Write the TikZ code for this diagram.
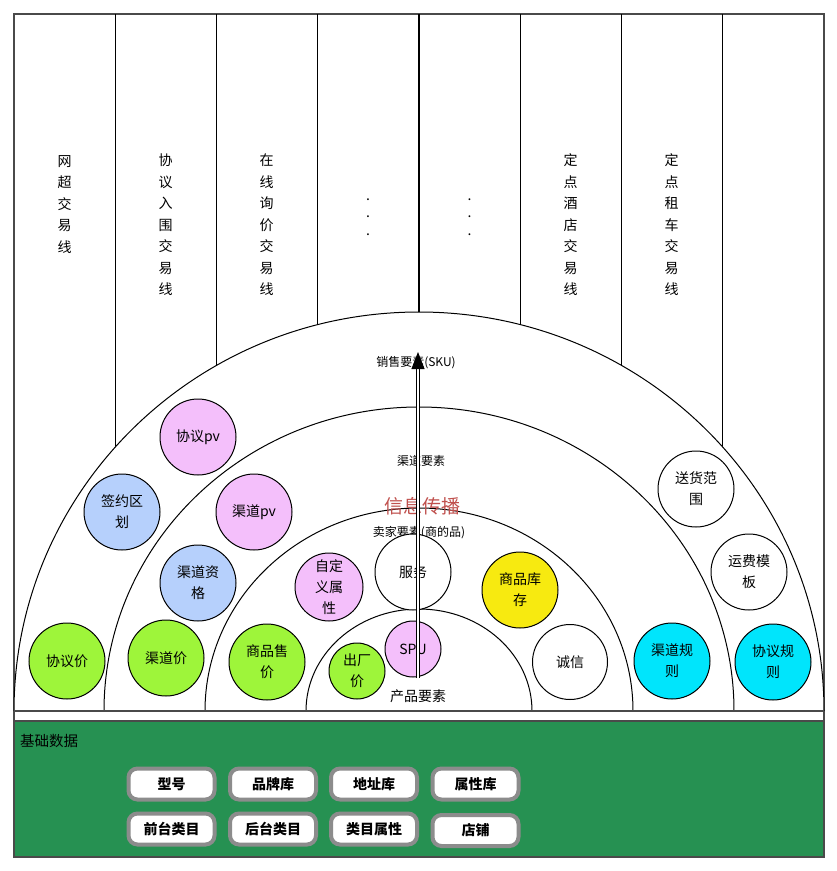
\documentclass[tikz,border=0pt]{standalone}
\usepackage{fontspec}
\setmainfont{Noto Sans CJK SC}
\usetikzlibrary{positioning, arrows.meta}

\definecolor{pvpink}{HTML}{F4BFFB}
\definecolor{areablue}{HTML}{B6D0FC}
\definecolor{pricegreen}{HTML}{9EF53A}
\definecolor{stockyellow}{HTML}{F7EA10}
\definecolor{rulecyan}{HTML}{00E5FC}
\definecolor{basegreen}{HTML}{269152}
\definecolor{infored}{HTML}{C0504D}
\definecolor{framegray}{HTML}{4A4A4A}
\definecolor{boxgray}{HTML}{8C8C8C}

\tikzset{
  element/.style={circle, draw, line width=1pt, inner sep=0pt, align=center,
    font=\fontsize{14}{21}\selectfont},
  lanetext/.style={inner sep=0pt, align=center, font=\fontsize{14}{21.5}\selectfont},
  layertext/.style={inner sep=0pt, font=\fontsize{12}{14}\selectfont},
  basebox/.style={draw=boxgray, line width=4pt, fill=white, rounded corners=9pt,
    minimum width=86pt, minimum height=31pt, inner sep=0pt,
    font=\bfseries\fontsize{14}{16}\selectfont}
}

\begin{document}
\begin{tikzpicture}[x=1pt, y=1pt]
    \useasboundingbox (0,0) rectangle (837,-871);

    % Draw frame and lane separators
    \draw[framegray, line width=1.5pt] (14,-14) rectangle (824,-857);
    \foreach \x/\y in {115.25/447.1, 216.5/365.5, 317.75/324.7, 419/312, 520.25/324.7, 621.5/365.5, 722.75/447.1} {
      \draw[line width=1.2pt] (\x,-14) -- (\x,-\y);
    }

    % Lane labels
    \foreach \x/\y/\t in {64.5/204.5/网\\超\\交\\易\\线, 165.5/225/协\\议\\入\\围\\交\\易\\线,
      266.5/225/在\\线\\询\\价\\交\\易\\线, 570.5/225/定\\点\\酒\\店\\交\\易\\线,
      671.5/225/定\\点\\租\\车\\交\\易\\线} {
      \node[lanetext] at (\x,-\y) {\t};
    }
    \foreach \x in {368, 469.5} {
      \node[lanetext, font=\fontsize{14}{17.5}\selectfont] at (\x,-217) {.\\.\\.};
    }

    % Draw layers
    \foreach \rx/\ry in {405/399, 315/304, 214/203, 113/102} {
      \draw[fill=white, line width=1pt] (419-\rx,-711) arc[start angle=180, end angle=0, x radius=\rx, y radius=\ry];
    }
    \draw[framegray, line width=1.5pt] (14,-711) -- (824,-711);

    % Layer labels
    \node[layertext] (skulabel) at (416,-363) {销售要素(SKU)};
    \node[layertext] (channellabel) at (421,-461) {渠道要素};
    \node[inner sep=0pt, text=infored, font=\fontsize{19}{21}\selectfont] (info) at (422,-506) {信息传播};
    \node[layertext] (sellerlabel) at (419,-533) {卖家要素(商的品)};
    \node[layertext, font=\fontsize{14}{16}\selectfont] (productlabel) at (418,-696) {产品要素};

    % Elements
    \foreach \n/\x/\y/\s/\c/\t in {
      agreepv/198/437/76/pvpink/协议pv, area/122/512/76/areablue/签约区\\划,
      channelpv/254/512/76/pvpink/渠道pv, qualify/198/583/76/areablue/渠道资\\格,
      agreeprice/67/661/76/pricegreen/协议价, channelprice/166/658/76/pricegreen/渠道价,
      saleprice/267/662/76/pricegreen/商品售\\价, customattr/329/587/68/pvpink/自定\\义属\\性,
      service/413/572/76/white/服务, stock/520/590/76/stockyellow/商品库\\存,
      spu/413/649/56/pvpink/SPU, factory/357/671/56/pricegreen/出厂\\价,
      credit/570/662/75/white/诚信, channelrule/672/661/76/rulecyan/渠道规\\则,
      agreerule/773/662/76/rulecyan/协议规\\则, delivery/696/489/76/white/送货范\\围,
      freight/749/572/76/white/运费模\\板} {
      \node[element, minimum size=\s pt, fill=\c] (\n) at (\x,-\y) {\t};
    }

    % Information flow
    \coordinate (flowstart) at (418,-678);
    \coordinate (flowend) at (418,-352);
    \draw[line width=1pt, double=white, double distance=2.6pt,
      -{Triangle[length=17pt, width=13pt]}] (flowstart) -- (flowend);

    % Base data
    \fill[basegreen] (14,-721) rectangle (824,-857);
    \draw[framegray, line width=1.5pt] (14,-721) rectangle (824,-857);
    \node[anchor=west, inner sep=0pt, font=\fontsize{14.5}{16}\selectfont] (basedata) at (20,-741) {基础数据};
    \foreach \n/\x/\y/\t in {model/171.5/784/型号, brand/273/784/品牌库, address/374/784/地址库,
      attrlib/475.5/784/属性库, frontcat/171.5/829/前台类目, backcat/273/829/后台类目,
      catattr/374/829/类目属性, shop/475.5/830.5/店铺} {
      \node[basebox] (\n) at (\x,-\y) {\t};
    }
\end{tikzpicture}
\end{document}
